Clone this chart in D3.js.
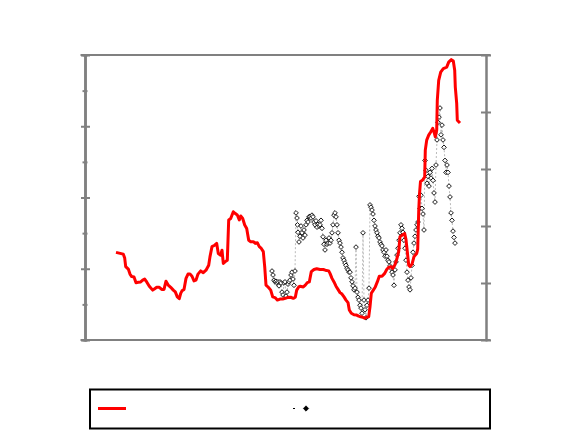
<!DOCTYPE html>
<html>
<head>
<style>
  body { margin: 0; background: #fff; font-family: "Liberation Sans", sans-serif; }
  .frame line, .frame path { stroke: #808080; stroke-width: 2px; }
</style>
</head>
<body>
<div id="chart"></div>
<script src="https://d3js.org/d3.v7.min.js"></script>
<script>
// red series (left axis) - week index and value
var priceT = [31, 38.3, 39.7, 40.7, 43.3, 45, 46.7, 49, 51, 53.3, 55.7, 57.7, 59.7, 61.7, 64.3, 67.7, 69.7, 71.7, 74.3, 76.7,
  79, 81, 83, 85.7, 88.3, 90.3, 92.3, 94.3, 95.7, 97, 99, 101, 103, 105, 107, 109, 111, 113, 115.7, 118.3,
  121, 123.7, 125, 127, 129.7, 131.7, 133.3, 135.7, 137, 138.3, 140.3, 142.3, 143.7, 145.7, 148.3, 150.3, 152.3, 154.3, 155.7, 157.7,
  159.7, 161.7, 163.7, 165.7, 168.3, 170.3, 172.3, 174.3, 176.3, 178.3, 179.7, 181, 183.3, 185.7, 187.7, 190, 192.3, 195, 197.7, 200.3,
  202.3, 205.7, 208.3, 210.3, 211.7, 213.7, 215, 218.3, 220.3, 222.3, 224.3, 226.3, 229, 231.7, 235, 238.3, 240.3, 243.7, 245, 247,
  249, 251, 253, 255, 257, 259, 261, 263, 264.3, 266.3, 269, 271.7, 273.7, 275.7, 277.7, 279.7, 281.7, 283.7, 285, 286.3,
  288.3, 290.3, 292.3, 294.3, 297, 299.7, 301.7, 303.7, 305.7, 307.7, 309.7, 311.7, 313.7, 315, 317, 319.7, 321, 322.3, 323.7, 325,
  327, 329, 331.7, 332.7, 333.7, 334.5, 335.5, 337.7, 339.7, 340.3, 341.7, 343.7, 345.7, 347.7, 349, 350.3, 351.7, 352.3, 353.7, 355.7,
  358.3, 361.7, 363.7, 366.3, 368.3, 369.7, 370.3, 371.7, 372.3, 375];
var priceV = [2.46, 2.41, 2.30, 2.06, 1.99, 1.85, 1.78, 1.77, 1.61, 1.62, 1.63, 1.68, 1.71, 1.63, 1.51, 1.40, 1.44, 1.48, 1.48, 1.42,
  1.42, 1.65, 1.55, 1.48, 1.40, 1.35, 1.21, 1.16, 1.31, 1.38, 1.42, 1.73, 1.85, 1.85, 1.79, 1.66, 1.68, 1.85, 1.94, 1.89,
  1.96, 2.10, 2.34, 2.62, 2.66, 2.71, 2.43, 2.38, 2.52, 2.15, 2.20, 2.24, 3.37, 3.41, 3.60, 3.55, 3.51, 3.37, 3.48, 3.41,
  3.23, 3.13, 2.80, 2.76, 2.76, 2.71, 2.73, 2.62, 2.57, 2.48, 2.06, 1.54, 1.48, 1.40, 1.21, 1.19, 1.12, 1.15, 1.15, 1.17,
  1.19, 1.20, 1.17, 1.20, 1.40, 1.49, 1.51, 1.49, 1.54, 1.61, 1.63, 1.92, 1.98, 2.00, 1.98, 1.98, 1.96, 1.94, 1.87, 1.73,
  1.63, 1.51, 1.42, 1.33, 1.29, 1.21, 1.12, 1.05, 0.84, 0.75, 0.71, 0.70, 0.67, 0.65, 0.64, 0.61, 0.64, 0.65, 0.93, 1.31,
  1.40, 1.49, 1.63, 1.79, 1.79, 1.87, 1.98, 2.04, 2.06, 2.01, 2.10, 2.26, 2.48, 2.90, 2.94, 2.99, 2.82, 2.48, 2.10, 2.06,
  2.13, 2.34, 2.43, 2.55, 3.60, 4.10, 4.45, 4.49, 4.58, 5.33, 5.61, 5.75, 5.84, 5.94, 5.84, 5.70, 5.89, 6.73, 7.29, 7.52,
  7.62, 7.66, 7.80, 7.87, 7.83, 7.57, 7.10, 6.64, 6.17, 6.09];

// marker series (right axis)
var ratioT = [187, 188, 189, 190, 191, 192, 193, 194, 195, 196, 197, 198, 199, 200, 201, 202, 203, 204, 205, 206, 207, 208, 209, 210,
  211, 212, 212.5, 213, 214, 215, 216, 217, 218, 219, 220, 221, 222, 223, 224, 225, 226, 227, 228, 229, 230, 231, 232, 233, 234, 235,
  236, 237, 238, 239, 240, 241, 242, 243, 244, 245, 246, 247, 248, 249, 250, 251, 252, 253, 254, 255, 256, 257, 258, 259, 260,
  261, 262, 263, 264, 265, 266, 267, 268, 269, 270, 271, 272, 273, 274, 275, 276, 277, 278, 279, 280, 281, 282, 283, 284,
  285, 286, 287, 288, 289, 290, 291, 292, 293, 294, 295, 296, 297, 298, 299, 300, 301, 302, 303, 304, 305, 306, 307, 308, 309,
  310, 311, 312, 313, 314, 315, 316, 317, 318, 319, 320, 321, 322, 323, 324, 325, 326, 327, 328, 329, 330, 331, 332, 333,
  334, 335, 336, 337, 338, 339, 340, 341, 342, 343, 344, 345, 346, 347, 348, 349, 350, 351, 352, 353, 354, 355, 356, 357,
  358, 359, 360, 361, 362, 363, 364, 365, 366, 367, 368, 369, 370];
var ratioV = [1.21, 1.14, 1.05, 1.02, 1.03, 1.00, 1.02, 0.95, 1.02, 1.00, 0.84, 0.79, 1.00, 1.02, 0.77, 0.84, 0.98, 1.02, 1.05, 1.14, 1.19, 1.07, 0.96, 1.21,
  2.23, 2.14, 2.02, 1.89, 1.72, 1.82, 2.00, 1.88, 1.79, 1.93, 1.84, 2.02, 2.10, 2.07, 2.16, 2.17, 2.14, 2.19, 2.16, 2.07, 2.02, 2.09, 1.98, 2.03, 2.00, 2.02,
  2.10, 1.96, 1.81, 1.68, 1.58, 1.75, 1.68, 1.70, 1.79, 1.70, 1.75, 1.88, 2.02, 2.19, 2.23, 2.16, 2.02, 1.88, 1.75, 1.70, 1.63, 1.54, 1.44, 1.40, 1.35,
  1.31, 1.26, 1.23, 1.19, 1.19, 1.09, 1.02, 0.95, 0.88, 0.91, 1.63, 0.84, 0.75, 0.70, 0.61, 0.56, 0.47, 1.88, 0.70, 0.53, 0.39, 0.61, 0.70, 0.91,
  2.37, 2.33, 2.28, 2.21, 2.10, 2.00, 1.93, 1.88, 1.82, 1.79, 1.72, 1.68, 1.65, 1.58, 1.54, 1.47, 1.58, 1.47, 1.40, 1.37, 1.30, 1.26, 1.19, 1.14, 0.96,
  1.23, 1.37, 1.49, 1.61, 1.75, 1.88, 2.02, 1.96, 1.89, 1.75, 1.61, 1.40, 1.19, 1.05, 0.93, 0.88, 1.09, 1.31, 1.54, 1.70, 1.82, 1.93, 2.02, 2.07,
  2.52, 2.31, 2.54, 2.31, 2.21, 1.93, 3.15, 2.98, 2.75, 2.87, 2.70, 2.94, 2.84, 3.01, 2.80, 2.58, 2.42, 3.07, 3.51, 3.82, 3.91, 4.07, 3.60, 3.77,
  3.51, 3.38, 3.15, 2.94, 3.07, 2.94, 2.70, 2.51, 2.23, 2.10, 1.91, 1.80, 1.70];

var leftMajor = [2, 4, 6];
var leftMinor = [1, 3, 5, 7];
var rightTicks = [1, 2, 3, 4];

var W = 581, H = 436;
var svg = d3.select("#chart").append("svg").attr("width", W).attr("height", H);

var x = d3.scaleLinear().domain([0, 401]).range([85, 486]);
var yL = d3.scaleLinear().domain([0, 8]).range([340, 55]);
var yR = d3.scaleLinear().domain([0, 5]).range([340, 55]);

// frame
var frame = svg.append("g").attr("class", "frame");
frame.append("line").attr("x1", 80.5).attr("x2", 490.5).attr("y1", yL(8)).attr("y2", yL(8));
frame.append("line").attr("x1", 80.5).attr("x2", 490.5).attr("y1", yL(0)).attr("y2", yL(0));

// left axis, ticks crossing the line
frame.append("g").attr("transform", "translate(" + x(0) + ",0)")
  .call(d3.axisLeft(yL).tickValues(leftMajor).tickSize(4).tickFormat(""));
frame.append("g").attr("transform", "translate(" + x(0) + ",0)")
  .call(d3.axisRight(yL).tickValues(leftMajor).tickSize(5).tickFormat(""));
frame.append("g").attr("transform", "translate(" + x(0) + ",0)")
  .call(d3.axisLeft(yL).tickValues(leftMinor).tickSize(2.5).tickFormat(""));
frame.append("g").attr("transform", "translate(" + x(0) + ",0)")
  .call(d3.axisRight(yL).tickValues(leftMinor).tickSize(2.5).tickFormat(""));

// right axis
frame.append("g").attr("transform", "translate(" + x(401) + ",0)")
  .call(d3.axisLeft(yR).tickValues(rightTicks).tickSize(5).tickFormat(""));
frame.append("g").attr("transform", "translate(" + x(401) + ",0)")
  .call(d3.axisRight(yR).tickValues(rightTicks).tickSize(5).tickFormat(""));

frame.selectAll(".domain").style("stroke-width", "2px");
frame.selectAll(".tick line").style("stroke", "#808080").style("stroke-width", "2px");

// marker series
var ratio = ratioT.map(function (t, i) { return { t: t, v: ratioV[i] }; });
var ratioLine = d3.line()
  .x(function (d) { return x(d.t); })
  .y(function (d) { return yR(d.v); });

svg.append("path")
  .datum(ratio)
  .attr("d", ratioLine)
  .attr("fill", "none")
  .attr("stroke", "#a8a8a8")
  .attr("stroke-width", 0.8)
  .attr("stroke-dasharray", "2,2");

var diamond = d3.symbol().type(d3.symbolDiamond2 || d3.symbolDiamond).size(14);
svg.selectAll(".pt")
  .data(ratio)
  .enter().append("path")
  .attr("class", "pt")
  .attr("d", diamond)
  .attr("transform", function (d) { return "translate(" + x(d.t) + "," + yR(d.v) + ")"; })
  .attr("fill", "#fff")
  .attr("stroke", "#000")
  .attr("stroke-width", 0.9);

// red series
var price = priceT.map(function (t, i) { return { t: t, v: priceV[i] }; });
svg.append("path")
  .datum(price)
  .attr("d", d3.line().x(function (d) { return x(d.t); }).y(function (d) { return yL(d.v); }))
  .attr("fill", "none")
  .attr("stroke", "#ff0000")
  .attr("stroke-width", 3)
  .attr("stroke-linejoin", "round");

// legend
var legend = svg.append("g");
legend.append("rect")
  .attr("x", 90).attr("y", 389.5).attr("width", 400).attr("height", 39)
  .attr("fill", "#fff").attr("stroke", "#000").attr("stroke-width", 2);
legend.append("line")
  .attr("x1", 98).attr("x2", 126).attr("y1", 408.5).attr("y2", 408.5)
  .attr("stroke", "#ff0000").attr("stroke-width", 3);
legend.append("line")
  .attr("x1", 293).attr("x2", 311).attr("y1", 408.5).attr("y2", 408.5)
  .attr("stroke", "#000").attr("stroke-width", 1).attr("stroke-dasharray", "2,9");
legend.append("path")
  .attr("d", d3.symbol().type(d3.symbolDiamond2 || d3.symbolDiamond).size(18))
  .attr("transform", "translate(306,408.5)")
  .attr("fill", "#000").attr("stroke", "#000").attr("stroke-width", 0.7);
</script>
</body>
</html>
